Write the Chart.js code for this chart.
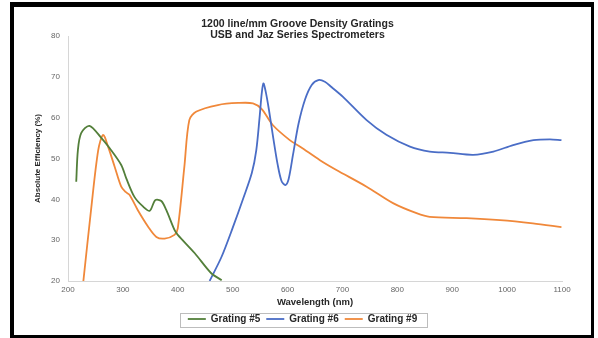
<!DOCTYPE html>
<html>
<head>
<meta charset="utf-8">
<script src="https://cdn.jsdelivr.net/npm/chart.js@4.4.1/dist/chart.umd.min.js"></script>
<style>
  html, body { margin: 0; padding: 0; background: #fff; }
  #wrap { position: relative; width: 598px; height: 338px; }
  #frame {
    position: absolute; left: 10px; top: 2px; width: 577px; height: 328px;
    border-style: solid; border-color: #000;
    border-width: 5px 3px 3px 4px;
    pointer-events: none;
  }
</style>
</head>
<body>
<div id="wrap">
  <canvas id="chart" width="598" height="338"></canvas>
  <div id="frame"></div>
</div>
<script>
// wavelength (nm) / absolute efficiency (%) per grating
const g5Wavelength = [215, 218, 224, 239, 261, 276, 297, 306, 321, 337, 349, 359, 370, 379, 394, 400, 431, 461, 480];
const g5Efficiency = [44.3, 52.0, 56.2, 58.0, 55.0, 52.5, 48.4, 45.2, 40.6, 38.2, 37.2, 39.8, 39.6, 37.4, 32.5, 31.3, 26.8, 21.9, 20.2];

const g6Wavelength = [458, 480, 500, 520, 535, 543, 549, 553, 556, 560, 566, 574, 582, 589, 596, 602, 610, 620, 632, 644, 656, 668, 680, 701, 744, 780, 823, 859, 896, 938, 975, 1011, 1048, 1078, 1099];
const g6Efficiency = [20.0, 26.0, 33.0, 40.5, 46.5, 52.0, 60.0, 66.0, 68.4, 66.5, 62.0, 55.0, 48.5, 44.5, 43.5, 45.0, 51.0, 58.5, 64.5, 68.0, 69.2, 68.8, 67.5, 65.1, 59.4, 55.8, 52.9, 51.7, 51.4, 50.9, 51.7, 53.3, 54.5, 54.7, 54.5];

const g9Wavelength = [228, 242, 255, 264, 273, 285, 297, 305, 312, 327, 346, 361, 376, 394, 400, 412, 421, 434, 473, 510, 537, 553, 573, 604, 623, 659, 689, 744, 793, 835, 859, 926, 987, 1047, 1099];
const g9Efficiency = [20.0, 37.4, 52.0, 55.8, 52.9, 48.0, 43.1, 41.8, 41.1, 37.4, 33.3, 30.8, 30.4, 31.3, 32.9, 48.0, 59.4, 61.5, 63.1, 63.6, 63.5, 62.1, 58.2, 54.5, 52.9, 49.6, 47.2, 43.1, 39.0, 36.6, 35.7, 35.4, 34.9, 34.1, 33.2];

const seriesNames = ['Grating #5', 'Grating #6', 'Grating #9'];
const xTicks = [200, 300, 400, 500, 600, 700, 800, 900, 1000, 1100];
const yTicks = [20, 30, 40, 50, 60, 70, 80];

const colors = {
    g5: '#537f3a',
    g6: '#4a6dc6',
    g9: '#f0883a',
    axis: '#d6d6d6',
    tick: '#666666',
    text: '#262626'
};

function toPoints(xs, ys) {
    return xs.map((x, i) => ({ x: x, y: ys[i] }));
}

function makeSeries(label, xs, ys, color) {
    return {
        label: label,
        data: toPoints(xs, ys),
        borderColor: color,
        backgroundColor: color,
        borderWidth: 1.8,
        pointRadius: 0,
        tension: 0.3,
        fill: false
    };
}

// full-width title and legend while the plot keeps its right margin
const boxFix = {
    id: 'boxFix',
    afterLayout(chart) {
        chart.legend.left = 7;
        chart.legend.right = 598;
        chart.titleBlock.left = 0;
        chart.titleBlock.right = 595;
    }
};

// thin frame around the legend row
const legendFrame = {
    id: 'legendFrame',
    afterDraw(chart) {
        const boxes = chart.legend.legendHitBoxes;
        if (!boxes || !boxes.length) return;
        const left = Math.min(...boxes.map(b => b.left)) - 8;
        const right = Math.max(...boxes.map(b => b.left + b.width)) + 10;
        const top = boxes[0].top - 1;
        const bottom = boxes[0].top + boxes[0].height + 3;
        const ctx = chart.ctx;
        ctx.save();
        ctx.strokeStyle = '#bdbdbd';
        ctx.lineWidth = 1;
        ctx.strokeRect(Math.round(left) + 0.5, Math.round(top) + 0.5, Math.round(right - left), Math.round(bottom - top));
        ctx.restore();
    }
};

Chart.defaults.font.family = "'Liberation Sans', Arial, sans-serif";

new Chart(document.getElementById('chart'), {
    type: 'line',
    data: {
        datasets: [
            makeSeries(seriesNames[0], g5Wavelength, g5Efficiency, colors.g5),
            makeSeries(seriesNames[1], g6Wavelength, g6Efficiency, colors.g6),
            makeSeries(seriesNames[2], g9Wavelength, g9Efficiency, colors.g9)
        ]
    },
    options: {
        responsive: false,
        animation: false,
        layout: { padding: { left: 0, right: 36, top: 0, bottom: 4 } },
        plugins: {
            title: {
                display: true,
                text: ['1200 line/mm Groove Density Gratings', 'USB and Jaz Series Spectrometers'],
                color: colors.text,
                font: { size: 10.5, weight: 'bold', lineHeight: 1 },
                padding: { top: 19, bottom: -4 }
            },
            legend: {
                position: 'bottom',
                labels: {
                    usePointStyle: true,
                    pointStyle: 'line',
                    pointStyleWidth: 18,
                    color: colors.text,
                    font: { size: 10, weight: 'bold' },
                    padding: 6
                }
            },
            tooltip: { enabled: false }
        },
        scales: {
            x: {
                type: 'linear',
                min: 200,
                max: 1100,
                afterBuildTicks: s => { s.ticks = xTicks.map(v => ({ value: v })); },
                afterFit: s => { s.height = 27; },
                grid: { display: false, drawTicks: false },
                border: { display: true, color: colors.axis, width: 1 },
                ticks: { color: colors.tick, font: { size: 8 }, padding: 4, maxRotation: 0, callback: v => String(v) },
                title: {
                    display: true,
                    text: 'Wavelength (nm)',
                    color: colors.text,
                    font: { size: 9.5, weight: 'bold' },
                    padding: { top: 0, bottom: 0.3 }
                }
            },
            y: {
                min: 20,
                max: 80,
                afterBuildTicks: s => { s.ticks = yTicks.map(v => ({ value: v })); },
                afterFit: s => { s.width = 68; },
                grid: { display: false, drawTicks: false },
                border: { display: true, color: colors.axis, width: 1 },
                ticks: { color: colors.tick, font: { size: 8 }, padding: 8, callback: v => String(v) },
                title: {
                    display: true,
                    text: 'Absolute Efficiency (%)',
                    color: colors.text,
                    font: { size: 8, weight: 'bold' },
                    padding: { top: 33, bottom: 0 }
                }
            }
        }
    },
    plugins: [boxFix, legendFrame]
});
</script>
</body>
</html>
